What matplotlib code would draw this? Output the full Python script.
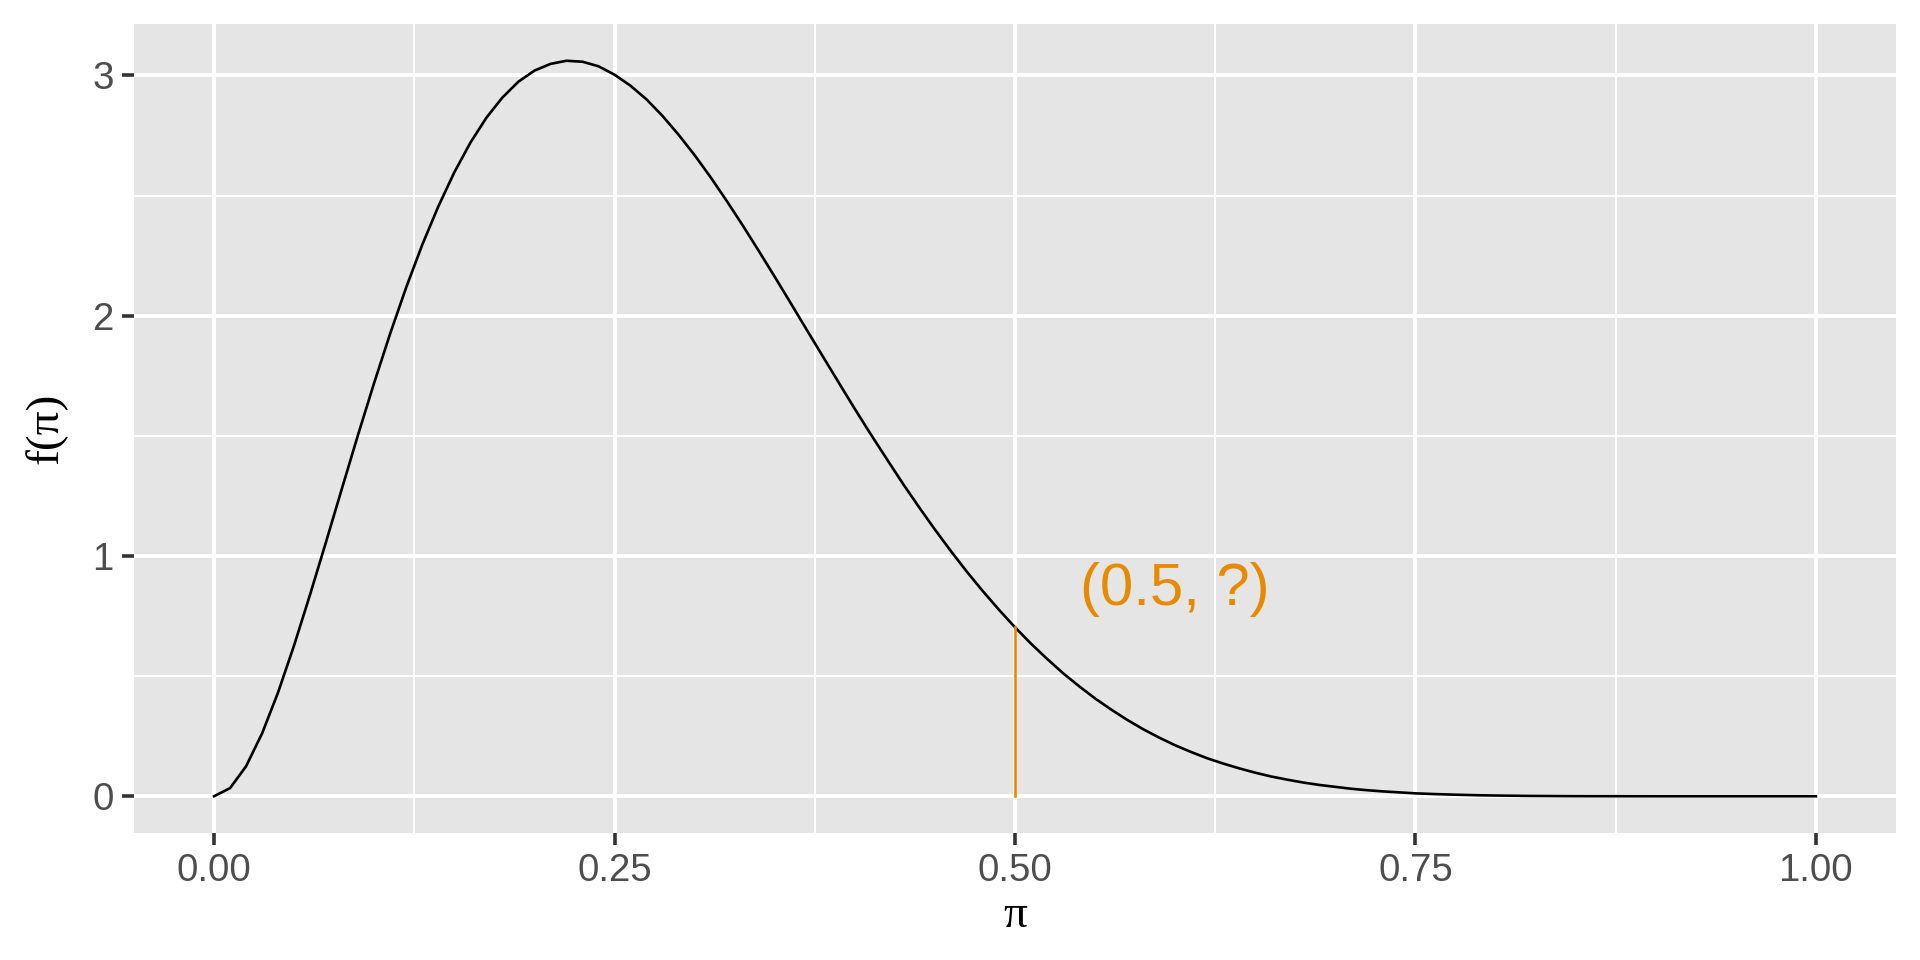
import matplotlib
matplotlib.use("Agg")
import matplotlib.pyplot as plt
from matplotlib.ticker import FixedLocator

# Curve values
pi_vals = [0.00, 0.01, 0.02, 0.03, 0.04, 0.05, 0.06, 0.07, 0.08, 0.09,
           0.10, 0.11, 0.12, 0.13, 0.14, 0.15, 0.16, 0.17, 0.18, 0.19,
           0.20, 0.21, 0.22, 0.23, 0.24, 0.25, 0.26, 0.27, 0.28, 0.29,
           0.30, 0.31, 0.32, 0.33, 0.34, 0.35, 0.36, 0.37, 0.38, 0.39,
           0.40, 0.41, 0.42, 0.43, 0.44, 0.45, 0.46, 0.47, 0.48, 0.49,
           0.50, 0.51, 0.52, 0.53, 0.54, 0.55, 0.56, 0.57, 0.58, 0.59,
           0.60, 0.61, 0.62, 0.63, 0.64, 0.65, 0.66, 0.67, 0.68, 0.69,
           0.70, 0.71, 0.72, 0.73, 0.74, 0.75, 0.76, 0.77, 0.78, 0.79,
           0.80, 0.82, 0.85, 0.90, 0.95, 1.00]
density = [0.000, 0.034, 0.125, 0.262, 0.433, 0.629, 0.841, 1.061, 1.285, 1.507,
           1.722, 1.927, 2.119, 2.296, 2.455, 2.597, 2.720, 2.824, 2.908, 2.974,
           3.020, 3.048, 3.061, 3.057, 3.038, 3.003, 2.957, 2.900, 2.831, 2.753,
           2.668, 2.576, 2.478, 2.376, 2.270, 2.162, 2.052, 1.941, 1.831, 1.721,
           1.612, 1.506, 1.403, 1.301, 1.204, 1.110, 1.020, 0.934, 0.853, 0.776,
           0.703, 0.635, 0.572, 0.512, 0.458, 0.407, 0.361, 0.318, 0.279, 0.244,
           0.212, 0.184, 0.158, 0.136, 0.116, 0.098, 0.082, 0.069, 0.057, 0.047,
           0.039, 0.031, 0.025, 0.020, 0.016, 0.012, 0.0095, 0.0073, 0.0055, 0.0040,
           0.0030, 0.0015, 0.0004, 0.0, 0.0, 0.0]

mark_x = 0.5
mark_y = 0.703
label_text = "(0.5, ?)"
label_x = 0.6
label_y = 0.86

x_ticks = [0.00, 0.25, 0.50, 0.75, 1.00]
x_tick_labels = ["0.00", "0.25", "0.50", "0.75", "1.00"]
y_ticks = [0, 1, 2, 3]
y_tick_labels = ["0", "1", "2", "3"]

orange = "#E68A00"

fig = plt.figure(figsize=(9.6, 4.8), dpi=200)
ax = fig.add_axes([134 / 1920, 1 - 833 / 960, (1896 - 134) / 1920, (833 - 24) / 960])
ax.set_facecolor("#E5E5E5")
for s in ax.spines.values():
    s.set_visible(False)

ax.set_xlim(-0.05, 1.05)
ax.set_ylim(-0.153, 3.214)

ax.xaxis.set_major_locator(FixedLocator(x_ticks))
ax.xaxis.set_minor_locator(FixedLocator([0.125, 0.375, 0.625, 0.875]))
ax.yaxis.set_major_locator(FixedLocator(y_ticks))
ax.yaxis.set_minor_locator(FixedLocator([0.5, 1.5, 2.5]))
ax.set_xticklabels(x_tick_labels)
ax.set_yticklabels(y_tick_labels)

ax.grid(which="major", color="white", linewidth=1.4)
ax.grid(which="minor", color="white", linewidth=0.7)
ax.set_axisbelow(True)

ax.tick_params(which="major", length=4.3, width=1.3, color="#333333",
               labelsize=13.8, labelcolor="#4D4D4D", pad=3)
ax.tick_params(which="minor", length=0)
for lab in ax.get_xticklabels() + ax.get_yticklabels():
    lab.set_family("Liberation Sans")

ax.plot(pi_vals, density, color="black", linewidth=0.95, solid_joinstyle="round")
ax.plot([mark_x, mark_x], [0, mark_y], color=orange, linewidth=0.95)
ax.text(label_x, label_y, label_text, color=orange, fontsize=21.5,
        family="Liberation Sans", ha="center", va="center")

ax.set_xlabel("π", family="Liberation Serif", fontsize=17, labelpad=2)
ax.set_ylabel("f(π)", family="Liberation Serif", fontsize=17, labelpad=9)

fig.savefig("out.png", dpi=200)
